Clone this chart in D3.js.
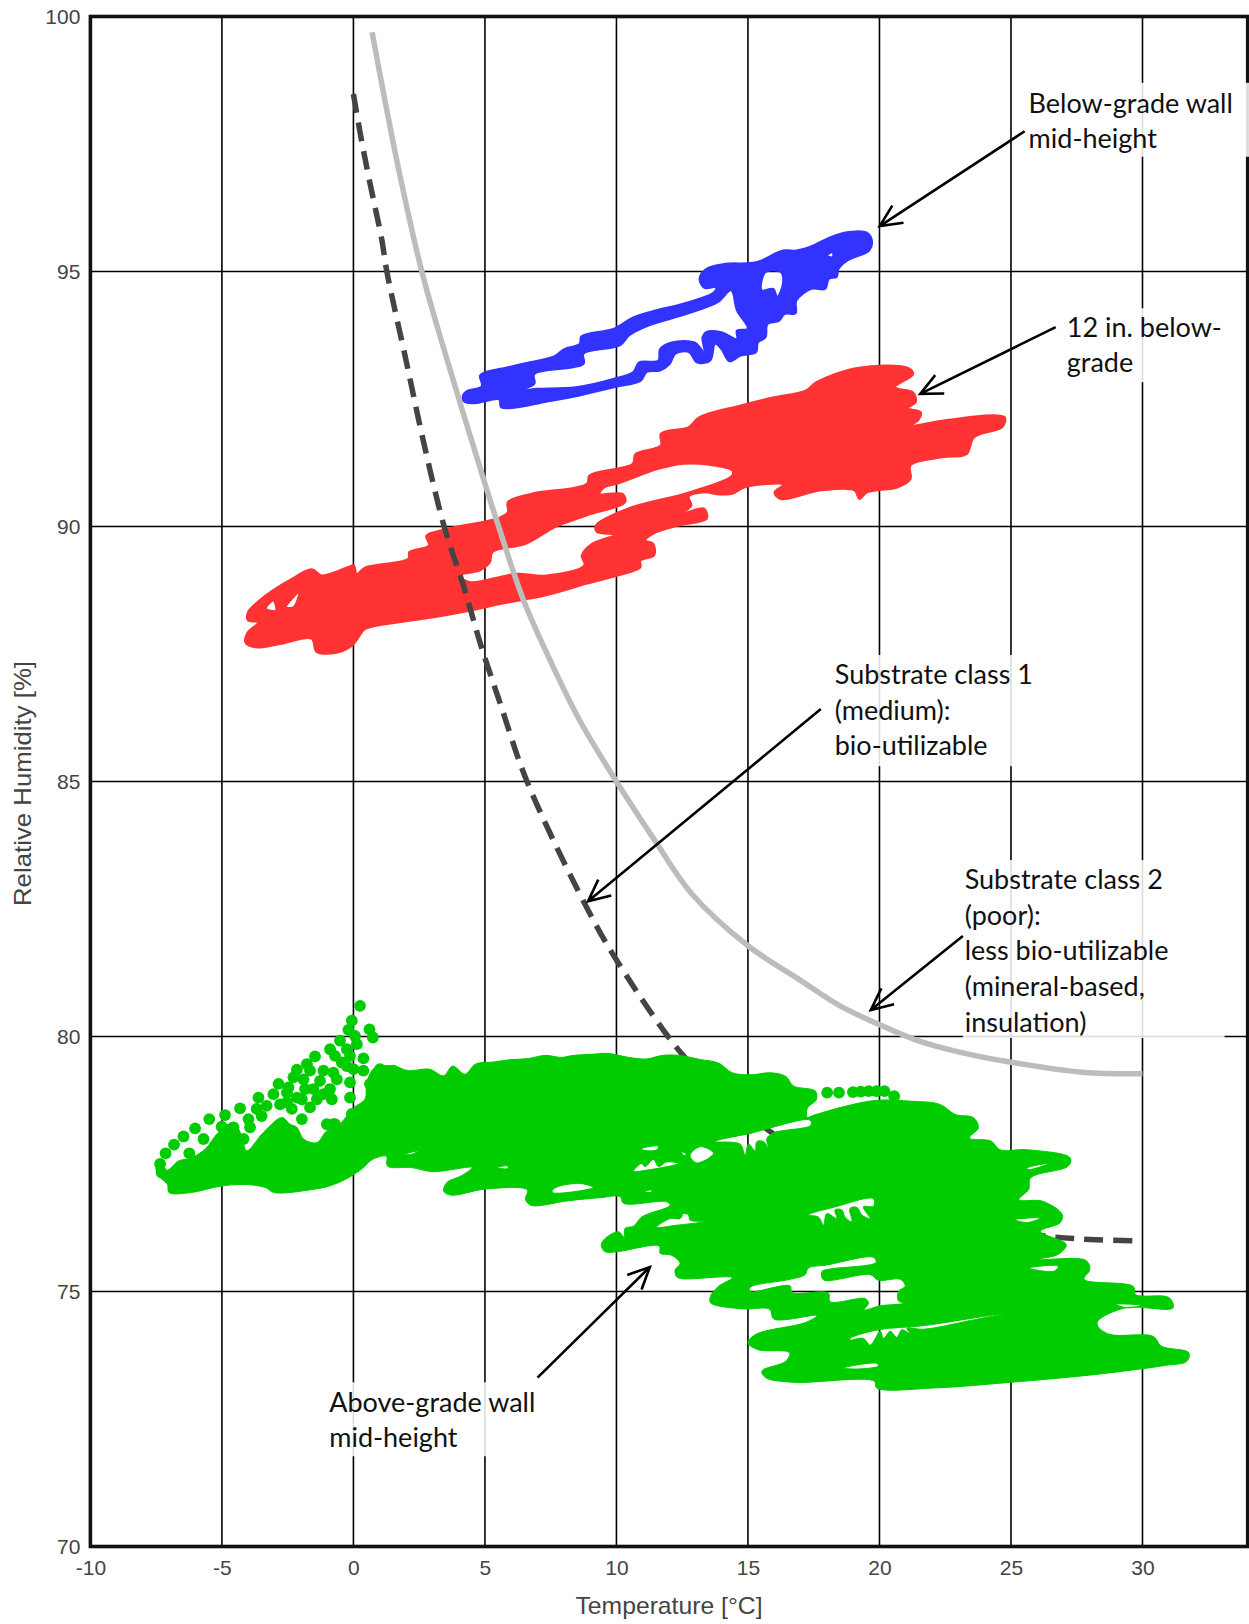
<!DOCTYPE html>
<html><head><meta charset="utf-8">
<script src="https://cdn.jsdelivr.net/npm/d3@7"></script>
<style>html,body{margin:0;padding:0;background:#fff}svg{display:block}</style>
</head><body><div id="chart"></div>
<script>
// Axis ticks
const xTicks=[-10,-5,0,5,10,15,20,25,30];
const yTicks=[70,75,80,85,90,95,100];
const xTitle="Temperature [°C]";
const yTitle="Relative Humidity [%]";

// Mould limit curves [T, RH]
const class2Curve=[[0.71,99.69],[1.2,98.35],[1.7,97.05],[2.6,95],[3.55,93.29],[5,90.84],[5.5,90.03],[6.45,88.58],[7.42,87.44],[8.6,86.2],[10,85],[11.45,83.85],[12.86,82.8],[15,81.78],[16.97,81.11],[18.5,80.6],[20.01,80.23],[21.4,79.93],[23,79.7],[24.95,79.5],[27.7,79.3],[30,79.27]];
const class1Curve=[[0,98.48],[0.29,97.62],[0.63,96.73],[1.08,95.62],[1.27,95],[2.0,93.26],[2.67,91.65],[3.45,90],[4.22,88.78],[4.81,87.73],[5.6,86.5],[6.6,85],[8.8,82.6],[10,81.5],[12.5,79.65],[13.9,78.96],[16,78.08],[20,76.9],[24,76.3],[26.1,76.1],[28,76.02],[29.96,75.99]];

// Below-grade wall mid-height: outline and gaps of the dense point cloud [T, RH]
const blueOutline=[[4.15,92.54],[4.30,92.65],[4.88,92.75],[4.81,92.96],[5.03,93.03],[5.83,93.12],[6.71,93.22],[7.65,93.34],[8.02,93.48],[8.60,93.58],[8.67,93.73],[9.91,93.88],[10.64,94.10],[11.52,94.24],[12.54,94.37],[13.70,94.59],[13.78,94.69],[13.34,94.68],[13.16,94.86],[13.41,95.05],[14.14,95.15],[15.31,95.18],[16.33,95.41],[16.84,95.41],[17.35,95.48],[18.00,95.64],[18.66,95.76],[19.53,95.76],[19.72,95.58],[19.61,95.41],[18.80,95.22],[18.44,95.05],[18.37,94.89],[18.08,94.86],[17.93,94.66],[17.42,94.66],[16.84,94.43],[16.81,94.18],[16.40,94.17],[16.18,94.03],[15.74,93.97],[15.67,93.71],[15.38,93.61],[15.31,93.42],[14.72,93.35],[14.29,93.24],[13.99,93.48],[13.75,93.58],[13.56,93.25],[13.05,93.22],[12.76,93.42],[12.24,93.39],[12.03,93.19],[11.66,93.06],[11.15,93.03],[10.93,92.86],[9.91,92.73],[8.60,92.57],[7.29,92.44],[6.12,92.33],[5.61,92.34],[5.54,92.49],[4.66,92.42],[4.23,92.44]];
const blueGaps=[
[[6.38,92.67],[6.88,92.80],[6.88,92.99],[8.75,93.19],[8.75,93.39],[10.13,93.55],[10.49,93.75],[11.22,93.94],[12.68,94.17],[13.85,94.40],[14.36,94.63],[14.58,94.24],[14.99,93.88],[14.58,93.84],[14.58,93.68],[13.99,93.81],[13.41,93.81],[13.27,93.71],[13.34,93.42],[12.97,93.61],[12.10,93.61],[11.66,93.48],[11.59,93.25],[10.86,93.22],[10.64,93.03],[9.91,92.90],[8.45,92.73],[7.00,92.70]],
[[15.67,94.99],[16.25,94.99],[16.33,94.76],[16.11,94.50],[15.96,94.66],[15.52,94.63]],
[[18.00,95.31],[18.22,95.38],[18.22,95.28]]];

// 12 in. below-grade
const redOutline=[[-4.11,87.73],[-4.01,87.93],[-3.62,88.12],[-4.01,88.16],[-4.01,88.32],[-3.33,88.65],[-2.36,88.97],[-1.59,89.16],[-1.20,89.04],[-0.23,89.20],[0.02,89.24],[0.12,89.07],[0.45,89.20],[2.09,89.37],[2.13,89.50],[2.87,89.63],[2.77,89.82],[3.45,89.94],[5.58,90.18],[5.87,90.28],[5.87,90.48],[6.74,90.64],[8.88,90.84],[8.97,91.00],[10.62,91.23],[10.72,91.42],[11.69,91.59],[11.69,91.82],[12.75,91.95],[13.14,92.14],[14.69,92.37],[15.85,92.52],[17.21,92.67],[17.60,92.83],[19.15,93.11],[21.09,93.11],[21.28,92.99],[20.60,92.73],[21.28,92.63],[21.38,92.44],[21.09,92.32],[21.57,92.24],[21.47,92.08],[21.18,91.98],[22.44,92.08],[24.38,92.18],[24.77,92.14],[24.67,91.95],[23.60,91.75],[23.31,91.42],[22.44,91.36],[21.18,91.20],[21.18,90.93],[20.70,90.77],[19.53,90.67],[19.24,90.54],[19.05,90.71],[17.79,90.71],[16.24,90.54],[16.01,90.67],[16.34,90.82],[14.88,90.77],[14.40,90.64],[13.72,90.64],[13.43,90.67],[12.75,90.59],[12.85,90.41],[12.46,90.25],[13.33,90.35],[13.43,90.15],[12.36,90.02],[11.40,89.86],[11.10,89.73],[11.40,89.66],[11.43,89.43],[10.91,89.33],[10.91,89.20],[10.04,89.04],[8.88,88.88],[7.33,88.65],[5.58,88.48],[4.42,88.35],[2.67,88.19],[0.93,88.06],[0.45,87.99],[-0.04,87.67],[-0.52,87.54],[-1.40,87.54],[-1.59,87.80],[-2.75,87.70],[-3.72,87.63]];
const redGaps=[
[[14.40,91.10],[13.53,91.21],[12.56,91.23],[11.59,91.13],[10.04,90.84],[9.55,90.77],[9.36,90.64],[10.23,90.64],[10.33,90.48],[8.88,90.22],[7.71,90.00],[7.52,89.95],[6.55,89.66],[5.29,89.50],[5.19,89.30],[4.81,89.14],[4.03,89.04],[4.42,88.91],[6.16,89.07],[7.33,89.04],[8.78,89.24],[8.68,89.43],[9.07,89.66],[9.94,89.84],[9.26,89.89],[9.22,90.02],[10.43,90.35],[12.75,90.67],[14.40,91.00]],
[[-3.33,88.39],[-3.04,88.55],[-2.95,88.35]],
[[-2.56,88.42],[-2.07,88.71],[-2.27,88.42]]];

// Above-grade wall mid-height
const greenOutline=[[-7.50,77.43],[-7.10,77.37],[-6.65,77.56],[-6.21,77.61],[-5.64,77.79],[-5.13,78.12],[-4.56,78.31],[-4.25,78.05],[-4.06,77.76],[-3.42,78.12],[-2.72,78.41],[-2.41,78.28],[-2.15,78.22],[-1.90,77.99],[-1.39,77.92],[-1.01,78.15],[-0.63,78.22],[-0.25,78.44],[0.03,78.61],[0.44,78.77],[0.51,79.10],[0.82,79.39],[1.52,79.42],[2.09,79.33],[2.89,79.36],[3.43,79.23],[3.77,79.42],[4.24,79.26],[4.65,79.46],[5.33,79.50],[5.87,79.54],[6.68,79.57],[7.29,79.63],[7.90,79.59],[8.37,79.63],[9.05,79.65],[9.66,79.67],[10.47,79.59],[11.15,79.56],[11.76,79.63],[12.37,79.63],[13.17,79.55],[13.88,79.48],[14.40,79.29],[15.15,79.25],[15.83,79.29],[16.43,79.22],[16.73,79.03],[17.56,78.93],[17.60,78.76],[17.26,78.60],[17.26,78.41],[17.41,78.44],[18.69,78.63],[19.89,78.75],[21.24,78.73],[22.29,78.67],[22.89,78.47],[23.57,78.41],[23.76,78.21],[23.42,78.01],[24.24,77.95],[24.58,77.78],[25.60,77.78],[27.25,77.62],[27.18,77.46],[25.75,77.23],[25.67,77.00],[25.30,76.80],[26.20,76.77],[26.95,76.51],[26.87,76.35],[26.12,76.18],[27.10,75.92],[26.80,75.73],[26.05,75.63],[27.85,75.61],[28.00,75.43],[27.78,75.24],[29.65,75.10],[29.73,74.94],[31.01,74.88],[31.16,74.68],[29.35,74.68],[28.30,74.42],[28.30,74.32],[28.75,74.16],[30.41,74.12],[30.71,73.93],[31.76,73.80],[31.68,73.63],[30.86,73.55],[28.15,73.37],[25.00,73.22],[22.14,73.11],[19.89,73.11],[19.81,73.24],[16.73,73.22],[15.68,73.31],[15.53,73.44],[16.43,73.63],[16.58,73.80],[15.38,73.86],[15.00,73.99],[15.30,74.16],[17.18,74.39],[17.63,74.53],[15.98,74.46],[15.83,74.65],[14.78,74.66],[13.58,74.78],[13.58,74.91],[13.88,75.10],[14.40,75.27],[12.52,75.25],[12.29,75.29],[12.23,75.42],[12.42,75.55],[12.10,75.71],[11.66,75.75],[11.63,75.89],[10.01,75.78],[9.57,75.78],[9.42,75.91],[9.57,76.04],[10.08,76.17],[10.29,76.07],[10.33,76.24],[10.65,76.28],[10.96,76.46],[12.04,76.69],[11.91,76.76],[10.27,76.73],[10.14,76.86],[9.38,76.84],[8.17,76.78],[6.75,76.69],[6.54,76.81],[6.61,76.99],[5.05,77.01],[3.70,76.89],[3.43,76.97],[3.56,77.14],[4.11,77.27],[4.51,77.43],[3.02,77.35],[2.21,77.43],[1.29,77.46],[1.26,77.65],[0.72,77.59],[0.31,77.40],[-0.30,77.20],[-0.91,77.07],[-1.45,77.01],[-3.01,76.94],[-3.35,77.04],[-4.16,77.10],[-5.11,77.06],[-6.19,76.94],[-7.01,76.94],[-7.07,77.10],[-7.41,77.27]];
const greenGaps=[
[[13.75,77.94],[15.08,78.10],[17.36,78.36],[17.39,78.26],[15.97,78.11],[15.72,78.0],[15.78,77.80],[15.59,77.94],[15.34,77.94],[15.27,77.76],[15.02,77.89],[14.89,77.67],[14.70,77.89]],
[[12.80,77.67],[13.18,77.84],[13.69,77.71],[13.05,77.52]],
[[10.96,77.80],[11.60,77.85],[11.54,77.78],[11.03,77.77]],
[[10.65,77.36],[10.96,77.51],[11.09,77.45],[11.41,77.59],[11.60,77.45],[11.91,77.54],[12.36,77.51],[11.28,77.39]],
[[12.48,77.74],[12.67,77.69],[12.55,77.67]],
[[11.03,76.95],[11.34,76.99],[11.34,76.95]],
[[11.53,76.26],[12.04,76.43],[12.42,76.43],[12.55,76.53],[12.74,76.50],[12.80,76.40],[13.31,76.37],[12.29,76.30]],
[[17.30,76.50],[18.25,76.65],[19.77,76.82],[19.77,76.67],[19.39,76.66],[19.65,76.43],[19.33,76.50],[19.14,76.65],[18.88,76.63],[18.95,76.37],[18.69,76.46],[18.57,76.60],[18.31,76.60],[18.38,76.43],[18.00,76.53],[17.87,76.30],[17.68,76.46]],
[[18.88,74.08],[19.96,74.25],[21.67,74.33],[23.57,74.48],[24.84,74.58],[23.45,74.43],[21.67,74.26],[21.04,74.28],[21.17,74.17],[20.85,74.25],[20.66,74.10],[20.41,74.22],[20.15,74.08],[20.03,74.22],[19.65,73.95],[19.39,74.08],[18.88,74.05]],
[[18.63,73.50],[19.90,73.59],[19.96,73.54],[19.14,73.48]],
[[15.08,75.08],[16.60,75.24],[17.17,75.33],[17.30,75.46],[18.00,75.52],[19.77,75.67],[19.87,75.57],[18.12,75.44],[17.81,75.39],[17.87,75.23],[19.65,75.33],[19.96,75.22],[20.79,75.24],[20.98,75.11],[20.72,75.00],[20.72,74.82],[20.91,74.77],[20.03,74.72],[19.42,74.64],[19.58,74.77],[19.46,74.86],[18.12,74.80],[18.06,74.97],[16.67,74.98],[16.60,75.11],[15.08,75.00]],
[[25.67,75.46],[26.80,75.50],[26.65,75.40]],
[[28.98,74.75],[29.95,74.73],[29.43,74.68]],
[[7.56,76.94],[9.12,77.04],[8.58,77.12],[7.63,77.02]],
[[1.94,77.69],[2.48,77.76],[2.21,77.69]],
[[5.46,77.43],[5.87,77.46],[5.87,77.41]],
[[25.15,76.41],[26.12,76.44],[25.60,76.35]],
[[25.60,77.42],[26.50,77.52],[25.67,77.39]]];
const greenDots=[[0.25,80.60],[-0.06,80.31],[-0.19,80.13],[0.61,80.14],[0.74,79.98],[0.06,80.01],[0.13,79.85],[-0.51,79.92],[-0.25,79.75],[-0.89,79.75],[-0.70,79.62],[-1.46,79.61],[0.38,79.57],[-0.13,79.62],[0,79.36],[0.38,79.33],[-1.77,79.46],[-2.15,79.35],[-1.65,79.33],[-1.90,79.16],[-2.28,79.20],[-2.85,79.07],[-1.14,79.33],[-1.27,79.13],[-0.76,79.29],[-0.44,79.49],[-0.89,78.97],[-1.52,78.97],[-0.13,78.80],[-0.13,79.10],[-0.63,79.16],[-2.53,78.90],[-3.04,78.87],[-3.61,78.80],[-2.79,78.67],[-3.30,78.64],[-3.68,78.58],[-3.49,78.44],[-1.96,78.77],[-1.65,78.61],[-2.34,78.58],[-1.96,78.38],[-4.31,78.59],[-3.99,78.38],[-3.93,78.22],[-4.88,78.46],[-5.01,78.23],[-5.48,78.38],[-6.02,78.20],[-6.46,78.04],[-5.70,77.99],[-6.82,77.88],[-7.14,77.71],[-6.24,77.71],[-4.18,77.99],[-4.56,78.22],[-4.82,78.02],[-7.35,77.50],[-7.29,77.33],[-0.76,78.28],[-0.06,78.48],[0.63,79.07],[1.01,79.36],[1.52,79.33],[1.96,79.23],[1.65,79.00],[-2.47,79.00],[-1.84,78.97],[-1.14,78.87],[-0.82,78.77],[-1.39,78.77],[-2.15,78.80],[-0.25,79.42],[-0.70,78.28],[-1.01,78.28],[-2.53,78.71],[18.01,78.90],[18.46,78.90],[18.99,78.91],[19.29,78.92],[19.59,78.93],[19.89,78.93],[20.19,78.93],[20.56,78.83]];

// Annotations: text lines, first-baseline anchor and arrow ends [T, RH]
const noteText=[["Below-grade wall","mid-height"],["12 in. below-","grade"],["Substrate class 1","(medium):","bio-utilizable"],["Substrate class 2","(poor):","less bio-utilizable","(mineral-based,","insulation)"],["Above-grade wall","mid-height"]];
const noteAnchor=[[25.67,98.11],[27.12,93.72],[18.30,86.91],[23.24,82.89],[-0.92,72.64]];
const noteArrowFrom=[[25.52,97.75],[26.70,93.91],[17.77,86.42],[23.17,81.97],[7.0,73.31]];
const noteArrowTo=[[20.01,95.89],[21.55,92.60],[8.92,82.65],[19.67,80.52],[11.27,75.48]];
const noteBoxMin=[[25.63,97.25],[26.93,92.83],[18.3,85.30],[23.17,79.97],[-1.08,71.77]];
const noteBoxMax=[[34.06,98.70],[33.3,94.28],[25.14,87.48],[33.12,83.46],[7.09,73.22]];

const W=1249,H=1624;
const x=d3.scaleLinear().domain([-10,34]).range([90.4,1247.7]);
const y=d3.scaleLinear().domain([70,100]).range([1546.5,16.5]);
const svg=d3.select("#chart").append("svg").attr("width",W).attr("height",H).attr("viewBox",[0,0,W,H]);
svg.append("rect").attr("width",W).attr("height",H).attr("fill","#fff");

// Grid
const grid=svg.append("g").attr("stroke","#000").attr("stroke-width",1.6);
grid.selectAll(".v").data(xTicks.slice(1)).join("line").attr("x1",d=>x(d)).attr("x2",d=>x(d)).attr("y1",y(100)).attr("y2",y(70));
grid.selectAll(".h").data(yTicks.slice(1,-1)).join("line").attr("x1",x(-10)).attr("x2",x(34)).attr("y1",d=>y(d)).attr("y2",d=>y(d));

const tickFont="'Liberation Sans',Arial,sans-serif";
const gx=svg.append("g").attr("transform",`translate(0,${y(70)})`).call(d3.axisBottom(x).tickValues(xTicks).tickSize(0).tickPadding(14).tickFormat(d=>String(d)));
const gy=svg.append("g").attr("transform",`translate(${x(-10)},0)`).call(d3.axisLeft(y).tickValues(yTicks).tickSize(0).tickPadding(10).tickFormat(d=>String(d)));
[gx,gy].forEach(g=>{g.select(".domain").remove();g.selectAll("text").attr("font-family",tickFont).attr("font-size",21).attr("fill","#444");});
svg.append("text").attr("x",669).attr("y",1614).attr("text-anchor","middle").attr("font-family",tickFont).attr("font-size",24).attr("fill","#444").attr("textLength",187).attr("lengthAdjust","spacingAndGlyphs").text(xTitle);
svg.append("text").attr("transform","translate(31,783.5) rotate(-90)").attr("text-anchor","middle").attr("font-family",tickFont).attr("font-size",24).attr("fill","#444").attr("textLength",245).attr("lengthAdjust","spacingAndGlyphs").text(yTitle);

const ring=d3.line().x(d=>x(d[0])).y(d=>y(d[1])).curve(d3.curveCatmullRomClosed.alpha(0.5));
const cloud=(outline,gaps,color,sw)=>svg.append("path").attr("d",[outline,...gaps].map(r=>ring(r)).join("")).attr("fill",color).attr("fill-rule","evenodd").attr("stroke",color).attr("stroke-width",sw).attr("stroke-linejoin","round");
const curve=d3.line().x(d=>x(d[0])).y(d=>y(d[1])).curve(d3.curveCatmullRom.alpha(0.5));

cloud(blueOutline,blueGaps,"#3333ff",2);
cloud(redOutline,redGaps,"#ff3333",2);
svg.append("path").attr("d",curve(class2Curve)).attr("fill","none").attr("stroke","#bcbcbc").attr("stroke-width",5.5);
svg.append("path").attr("d",curve(class1Curve)).attr("fill","none").attr("stroke","#444").attr("stroke-width",5.5).attr("stroke-dasharray","19 10");
cloud(greenOutline,greenGaps,"#00cc00",1);
svg.append("g").attr("fill","#00cc00").selectAll("circle").data(greenDots).join("circle").attr("cx",d=>x(d[0])).attr("cy",d=>y(d[1])).attr("r",5.9);

// Frame
svg.append("rect").attr("x",x(-10)).attr("y",y(100)).attr("width",x(34)-x(-10)).attr("height",y(70)-y(100)).attr("fill","none").attr("stroke","#111").attr("stroke-width",3.6);

// Notes
noteText.forEach((lines,i)=>{
  const a=noteBoxMin[i],b=noteBoxMax[i];
  svg.append("rect").attr("x",x(a[0])).attr("y",y(b[1])).attr("width",x(b[0])-x(a[0])).attr("height",y(a[1])-y(b[1])).attr("fill","#fff").attr("fill-opacity",0.86);
});
noteText.forEach((lines,i)=>{
  const t=svg.append("text").attr("font-family","Lato,'Open Sans',sans-serif").attr("font-size",27).attr("fill","#111");
  lines.forEach((s,j)=>t.append("tspan").attr("x",x(noteAnchor[i][0])).attr("y",y(noteAnchor[i][1])+j*35.6).text(s));
  const f=noteArrowFrom[i],g=noteArrowTo[i];
  const x0=x(f[0]),y0=y(f[1]),x1=x(g[0]),y1=y(g[1]);
  const ang=Math.atan2(y0-y1,x0-x1),L=24,sp=0.44;
  const arrow=d3.path();
  arrow.moveTo(x0,y0);arrow.lineTo(x1,y1);
  arrow.moveTo(x1+L*Math.cos(ang+sp),y1+L*Math.sin(ang+sp));arrow.lineTo(x1,y1);arrow.lineTo(x1+L*Math.cos(ang-sp),y1+L*Math.sin(ang-sp));
  svg.append("path").attr("d",arrow.toString()).attr("fill","none").attr("stroke","#000").attr("stroke-width",2.6);
});
</script></body></html>
